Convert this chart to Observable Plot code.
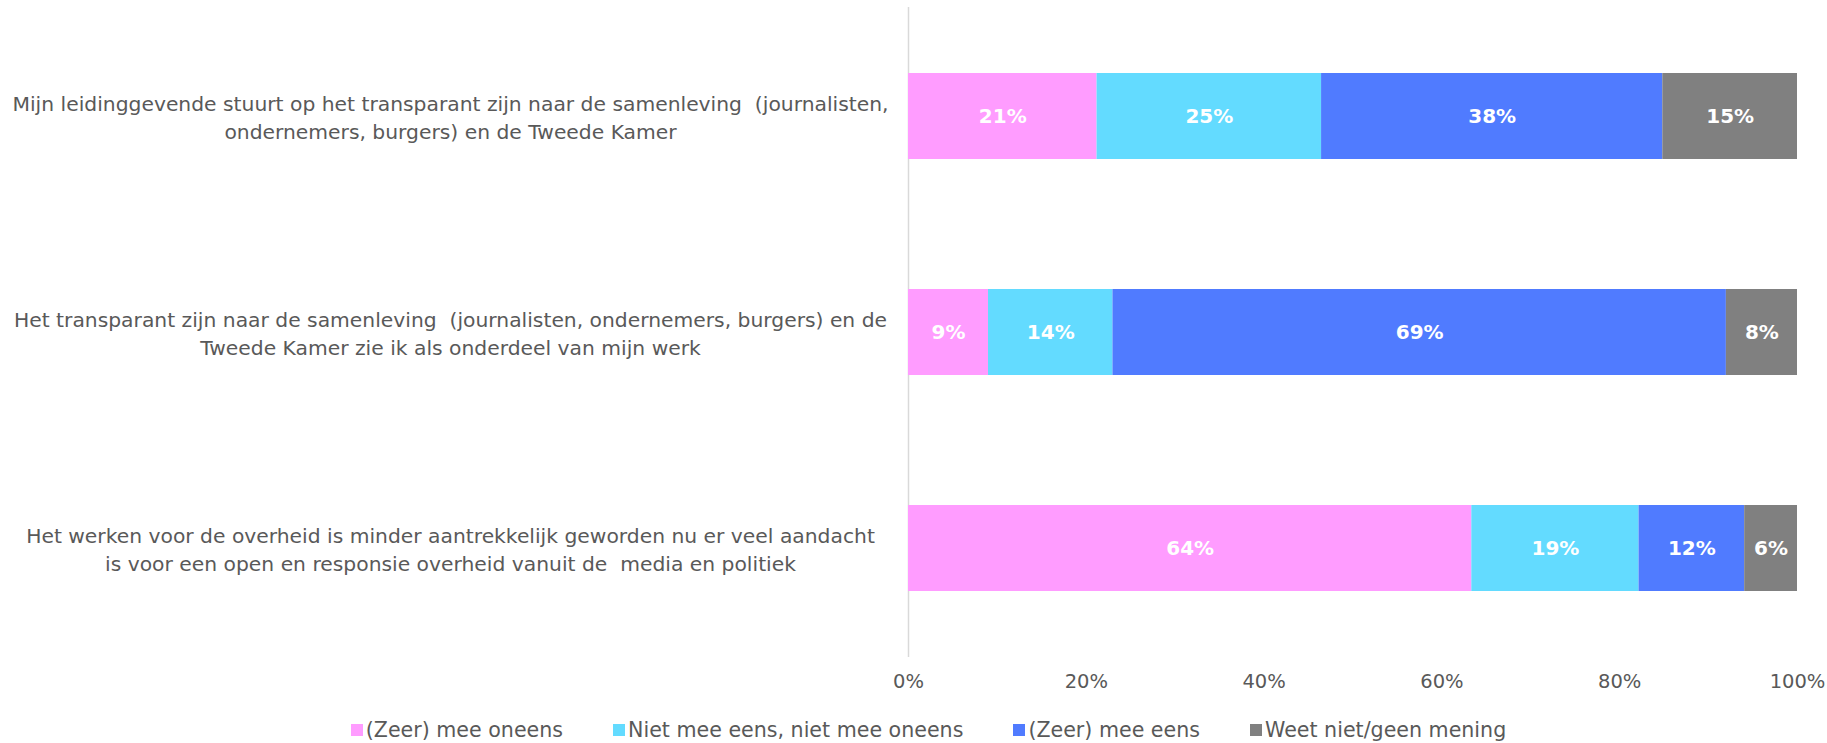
<!DOCTYPE html>
<html>
<head>
<meta charset="utf-8">
<script src="https://cdn.jsdelivr.net/npm/d3@7"></script>
<script src="https://cdn.jsdelivr.net/npm/@observablehq/plot@0.6"></script>
<style>
  body { margin: 0; background: #fff; font-family: "DejaVu Sans", sans-serif; }
  #legend { display: flex; justify-content: center; gap: 50px; margin-top: 18px; padding-left: 30px;
            font-size: 20.6px; color: #595959; line-height: 24px; }
  #legend .item { display: flex; align-items: center; white-space: nowrap; }
  #legend .sw { width: 12px; height: 12px; margin-right: 3px; display: inline-block; }
</style>
</head>
<body>
<div id="chart"></div>
<div id="legend"></div>
<script>
const categories = [
  "Mijn leidinggevende stuurt op het transparant zijn naar de samenleving  (journalisten,\nondernemers, burgers) en de Tweede Kamer",
  "Het transparant zijn naar de samenleving  (journalisten, ondernemers, burgers) en de\nTweede Kamer zie ik als onderdeel van mijn werk",
  "Het werken voor de overheid is minder aantrekkelijk geworden nu er veel aandacht\nis voor een open en responsie overheid vanuit de  media en politiek"
];
const seriesNames = ["(Zeer) mee oneens", "Niet mee eens, niet mee oneens", "(Zeer) mee eens", "Weet niet/geen mening"];
const seriesColors = ["#FF9CFF", "#63DBFF", "#507BFF", "#808080"];
const meeOneens = [21, 9, 64];
const neutraal = [25, 14, 19];
const meeEens = [38, 69, 12];
const weetNiet = [15, 8, 6];
const xTicks = [0, 0.2, 0.4, 0.6, 0.8, 1];

const seriesValues = [meeOneens, neutraal, meeEens, weetNiet];
const data = categories.flatMap((c, i) =>
  seriesNames.map((s, j) => ({category: c, series: s, value: seriesValues[j][i]}))
);

const chart = Plot.plot({
  width: 1827,
  height: 700,
  marginLeft: 908,
  marginRight: 30,
  marginTop: 7,
  marginBottom: 43,
  style: {fontFamily: "DejaVu Sans, sans-serif", background: "white"},
  x: {domain: [0, 1], axis: null},
  y: {domain: categories, paddingInner: 0.6, paddingOuter: 0.3, axis: null},
  color: {domain: seriesNames, range: seriesColors},
  marks: [
    Plot.ruleX([0], {stroke: "#d9d9d9", strokeWidth: 1.5}),
    Plot.barX(data, Plot.stackX({offset: "normalize", order: seriesNames, x: "value", y: "category", fill: "series", z: "series"})),
    Plot.text(data, Plot.stackX({offset: "normalize", order: seriesNames, x: "value", y: "category", z: "series",
      text: d => d.value + "%", fill: "white", fontWeight: "bold", fontSize: 20})),
    Plot.axisX({ticks: xTicks, tickFormat: d3.format(".0%"), tickSize: 0, tickPadding: 17, fontSize: 19.5, fill: "#595959", label: null}),
    Plot.text(categories, {y: d => d, text: d => d, frameAnchor: "left", textAnchor: "middle", dx: -458,
      fontSize: 20.3, lineHeight: 1.38, fill: "#595959"})
  ]
});
document.getElementById("chart").appendChild(chart);

const legend = document.getElementById("legend");
seriesNames.forEach((s, i) => {
  const item = document.createElement("div");
  item.className = "item";
  const sw = document.createElement("span");
  sw.className = "sw";
  sw.style.background = seriesColors[i];
  item.appendChild(sw);
  item.appendChild(document.createTextNode(s));
  legend.appendChild(item);
});
</script>
</body>
</html>
